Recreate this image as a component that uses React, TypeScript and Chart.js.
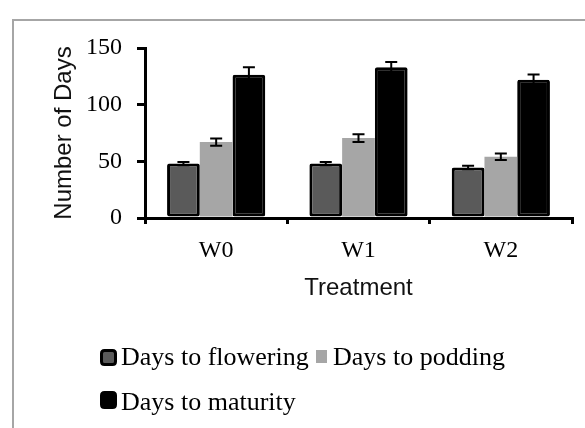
import React, { useEffect, useRef } from "react";
import { Chart, registerables } from "chart.js";

Chart.register(...registerables);

const categories = ["W0", "W1", "W2"];
const seriesNames = ["Days to flowering", "Days to podding", "Days to maturity"];
const flowering = [48, 48, 44.5];
const podding = [67, 70.5, 54];
const maturity = [126.5, 133, 122];
const floweringErr = [1.5, 1.5, 1.5];
const poddingErr = [3.2, 3.5, 2.9];
const maturityErr = [6.5, 4.6, 4.6];
const yTicks = [0, 50, 100, 150];

const SERIF = "'Liberation Serif', 'Times New Roman', serif";
const SANS = "'Liberation Sans', Arial, sans-serif";

const errorBarPlugin = {
  id: "errorBars",
  afterDatasetsDraw(chart: any) {
    const ctx = chart.ctx;
    const y = chart.scales.y;
    chart.data.datasets.forEach((ds: any, i: number) => {
      const meta = chart.getDatasetMeta(i);
      meta.data.forEach((el: any, j: number) => {
        const v = ds.data[j];
        const e = ds.errors[j];
        const top = y.getPixelForValue(v + e);
        const bot = y.getPixelForValue(v - e);
        const x = el.x;
        ctx.save();
        ctx.strokeStyle = "#000";
        ctx.lineWidth = 2;
        ctx.beginPath();
        ctx.moveTo(x, top);
        ctx.lineTo(x, bot);
        ctx.moveTo(x - 6, top);
        ctx.lineTo(x + 6, top);
        ctx.moveTo(x - 6, bot);
        ctx.lineTo(x + 6, bot);
        ctx.stroke();
        ctx.restore();
      });
    });
  },
};

function roundRect(ctx: any, x: number, y: number, w: number, h: number, r: number) {
  ctx.beginPath();
  ctx.moveTo(x + r, y);
  ctx.lineTo(x + w - r, y);
  ctx.quadraticCurveTo(x + w, y, x + w, y + r);
  ctx.lineTo(x + w, y + h - r);
  ctx.quadraticCurveTo(x + w, y + h, x + w - r, y + h);
  ctx.lineTo(x + r, y + h);
  ctx.quadraticCurveTo(x, y + h, x, y + h - r);
  ctx.lineTo(x, y + r);
  ctx.quadraticCurveTo(x, y, x + r, y);
  ctx.closePath();
}

const legendPlugin = {
  id: "customLegend",
  afterDraw(chart: any) {
    const ctx = chart.ctx;
    const ds = chart.data.datasets;
    ctx.save();
    ctx.font = "26px " + SERIF;
    ctx.fillStyle = "#000";
    ctx.textBaseline = "alphabetic";
    ctx.textAlign = "left";
    // item 1
    roundRect(ctx, 101.5, 350.5, 14, 14, 3);
    ctx.fillStyle = ds[0].backgroundColor;
    ctx.fill();
    ctx.lineWidth = 3;
    ctx.strokeStyle = "#000";
    ctx.stroke();
    ctx.fillStyle = "#000";
    ctx.fillText(ds[0].label, 121, 365);
    // item 2
    ctx.fillStyle = ds[1].backgroundColor;
    ctx.fillRect(316, 350, 11, 13);
    ctx.fillStyle = "#000";
    ctx.fillText(ds[1].label, 333, 365);
    // item 3
    roundRect(ctx, 101.5, 392.5, 14, 15, 3);
    ctx.fillStyle = ds[2].backgroundColor;
    ctx.fill();
    ctx.lineWidth = 3;
    ctx.strokeStyle = "#000";
    ctx.stroke();
    ctx.fillStyle = "#000";
    ctx.fillText(ds[2].label, 121, 410);
    ctx.restore();
  },
};

export default function App() {
  const ref = useRef<HTMLCanvasElement>(null);
  useEffect(() => {
    if (!ref.current) return;
    const chart = new Chart(ref.current, {
      type: "bar",
      data: {
        labels: categories,
        datasets: [
          {
            label: seriesNames[0],
            data: flowering,
            errors: floweringErr,
            backgroundColor: "#5a5a5a",
            borderColor: "#000",
            borderWidth: 3,
            borderSkipped: false,
            borderRadius: 2,
          } as any,
          {
            label: seriesNames[1],
            data: podding,
            errors: poddingErr,
            backgroundColor: "#a6a6a6",
            borderWidth: 0,
          } as any,
          {
            label: seriesNames[2],
            data: maturity,
            errors: maturityErr,
            backgroundColor: "#000",
            borderColor: "#000",
            borderWidth: 3,
            borderSkipped: false,
            borderRadius: 2,
          } as any,
        ],
      },
      options: {
        animation: false,
        responsive: false,
        maintainAspectRatio: false,
        layout: { padding: { left: 0, top: 48, right: 13, bottom: 120 } },
        datasets: { bar: { categoryPercentage: 0.69, barPercentage: 1 } },
        plugins: { legend: { display: false }, tooltip: { enabled: false } },
        scales: {
          x: {
            afterFit: (s: any) => {
              s.height = 90;
            },
            grid: {
              drawOnChartArea: false,
              drawTicks: true,
              tickLength: 6,
              color: "#000",
              lineWidth: 3,
            },
            border: { color: "#000", width: 3 },
            ticks: { color: "#000", font: { family: SERIF, size: 24 }, padding: 12 },
            title: {
              display: true,
              text: "Treatment",
              color: "#111",
              font: { family: SANS, size: 24 },
              padding: { top: 0, bottom: 5 },
            },
          },
          y: {
            min: 0,
            max: 150,
            afterFit: (s: any) => {
              s.width = 145;
            },
            afterBuildTicks: (s: any) => {
              s.ticks = yTicks.map((v) => ({ value: v }));
            },
            grid: {
              drawOnChartArea: false,
              drawTicks: true,
              tickLength: 8,
              color: "#000",
              lineWidth: 3,
            },
            border: { color: "#000", width: 3 },
            ticks: { color: "#000", font: { family: SERIF, size: 24 }, padding: 15 },
            title: {
              display: true,
              text: "Number of Days",
              color: "#111",
              font: { family: SANS, size: 24 },
              padding: { top: 50, bottom: 0 },
            },
          },
        },
      },
      plugins: [errorBarPlugin, legendPlugin],
    });
    return () => chart.destroy();
  }, []);
  return (
    <div style={{ position: "absolute", left: 0, top: 0, width: 585, height: 428, background: "#fff", overflow: "hidden" }}>
      <canvas ref={ref} width={585} height={428} style={{ position: "absolute", left: 0, top: 0 }} />
      <div
        style={{
          position: "absolute",
          left: 12,
          top: 19,
          width: 600,
          height: 450,
          borderLeft: "2px solid #a6a6a6",
          borderTop: "2px solid #a6a6a6",
          pointerEvents: "none",
        }}
      />
    </div>
  );
}
